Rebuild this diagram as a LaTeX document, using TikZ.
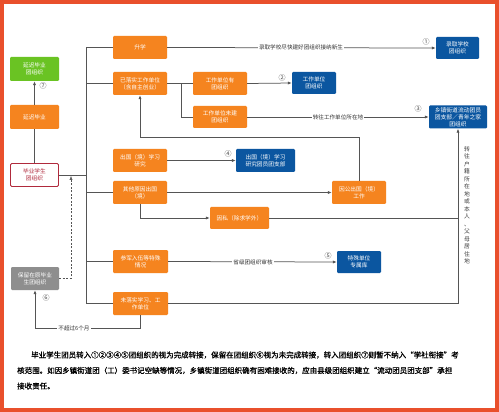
\documentclass[tikz,border=0pt]{standalone}
\usepackage{fontspec}
\setmainfont{Noto Sans CJK SC}
\newfontfamily\parafont{Noto Sans CJK SC}[FakeBold=1.2]
\usetikzlibrary{arrows.meta}
\definecolor{orgc}{HTML}{F5841F}
\definecolor{bluec}{HTML}{0B56A0}
\definecolor{greenc}{HTML}{6AC323}
\definecolor{grayc}{HTML}{8E8E8E}
\definecolor{framec}{HTML}{E9502C}
\definecolor{linec}{HTML}{555555}
\definecolor{redb}{HTML}{B02A3C}
\tikzset{
  box/.style={minimum width=54pt, minimum height=23pt, inner sep=0pt, rounded corners=1.2pt,
    align=center, font=\fontsize{5.7}{7.2}\selectfont, text=white},
  ob/.style={box, fill=orgc},
  bb/.style={box, fill=bluec},
  conn/.style={draw=linec, line width=0.75pt},
  arr/.style={-{Latex[length=4pt,width=3.2pt]}},
  lbl/.style={fill=white, inner sep=1pt, font=\fontsize{5.6}{6}\selectfont, text=black!80},
  num/.style={font=\fontsize{7}{7}\selectfont, text=black!70, inner sep=0pt},
  para/.style={anchor=west, inner sep=0pt, font=\parafont\fontsize{7.5}{8}\selectfont, text=black}
}
\begin{document}
\begin{tikzpicture}[x=1pt,y=-1pt]
\useasboundingbox (0,0) rectangle (499,412);
\fill[white] (0,0) rectangle (499,412);
\draw[framec, line width=4pt] (2,2) rectangle (497,409.5);

% nodes
\node[ob] (shengxue) at (140,47.5) {升学};
\node[ob] (yiluoshi) at (140,83.5) {已落实工作单位\\（含自主创业）};
\node[box, fill=greenc, minimum width=49pt, minimum height=24pt] (ycgreen) at (34.5,69) {延迟毕业\\团组织};
\node[ob, minimum width=49pt, minimum height=24pt] (ycorange) at (34.5,117) {延迟毕业};
\node[box, fill=white, draw=redb, line width=0.9pt, text=redb, minimum width=48pt, minimum height=23pt] (bysx) at (34.5,175) {毕业学生\\团组织};
\node[box, fill=grayc, minimum width=48pt, minimum height=23pt] (baoliu) at (35,278.5) {保留在原毕业\\生团组织};
\node[ob] (youtuan) at (220,83.5) {工作单位有\\团组织};
\node[ob, minimum height=22pt] (weijian) at (220,117) {工作单位未建\\团组织};
\node[bb, minimum width=43pt, minimum height=22pt] (lqxx) at (457.5,48) {录取学校\\团组织};
\node[bb, minimum width=44pt, minimum height=22pt] (gzdw) at (314,83) {工作单位\\团组织};
\node[bb, minimum width=58pt, minimum height=23pt, font=\fontsize{5.8}{6.9}\selectfont] (xzjd) at (458,117) {乡镇街道流动团员\\团支部／青年之家\\团组织};
\node[ob] (cgxx) at (140,160.5) {出国（境）学习\\研究};
\node[ob] (qtyy) at (140,192.5) {其他原因出国\\（境）};
\node[bb, minimum width=59pt] (cgblue) at (265.5,160.5) {出国（境）学习\\研究团员团支部};
\node[ob] (tgcg) at (359,192.5) {因公出国（境）\\工作};
\node[ob, minimum width=59pt, minimum height=22pt] (yinsi) at (239.5,218) {因私（除求学外）};
\node[ob, minimum width=55pt] (canjun) at (140.5,261.5) {参军入伍等特殊\\情况};
\node[bb, minimum width=44pt, minimum height=22pt] (tsdw) at (359,262) {特殊单位\\专属库};
\node[ob, minimum width=55pt] (wls) at (140.5,303.5) {未落实学习、工\\作单位};

% coordinates
\coordinate (trtop) at (86,47.5);
\coordinate (trbot) at (86,303.5);
\coordinate (jw) at (181,83.5);
\coordinate (h137) at (0,137);
\coordinate (rc) at (458,303.5);
\coordinate (bl6) at (35,328);
\coordinate (dtip) at (71,176);

% trunk
\draw[conn] (shengxue.west) -- (trtop) -- (trbot) -- (wls.west);
\draw[conn] (yiluoshi.west) -- (yiluoshi.west -| trtop);
\draw[conn] (qtyy.west) -- (qtyy.west -| trtop);
\draw[conn] (canjun.west) -- (canjun.west -| trtop);
\draw[conn] (bysx.east) -- (bysx.east -| trtop);
\draw[conn] (bysx.north) -- (ycorange.south);
\draw[conn, arr] (ycorange.north) -- (ycgreen.south);

% right side connectors
\draw[conn, arr] (shengxue.east) -- (lqxx.west);
\draw[conn] (yiluoshi.east) -- (youtuan.west);
\draw[conn] (jw) |- (weijian.west);
\draw[conn, arr] (youtuan.east) -- (gzdw.west);
\draw[conn, arr] (weijian.east) -- (xzjd.west);
\draw[conn, arr] (cgxx.east) -- (cgblue.west);
\draw[conn, arr] (qtyy.east) -- (tgcg.west);
\draw[conn, arr] (tgcg.north) -- (tgcg.north |- h137) -| (yiluoshi.south);
\draw[conn, arr] (qtyy.south) |- (yinsi.west);
\draw[conn] (yinsi.east) -- (yinsi.east -| rc);
\draw[conn, arr] (canjun.east) -- (tsdw.west);
\draw[conn, arr] (wls.east) -- (rc) -- (xzjd.south);
\draw[conn, arr] (wls.south) |- (bl6) -- (baoliu.south);
\draw[conn, dashed, dash pattern=on 2pt off 1.5pt, line width=0.5pt, arr] (baoliu.east) -| (dtip);

% labels
\node[lbl] (l1) at (301,47.5) {录取学校尽快建好团组织接纳新生};
\node[lbl] (l3) at (338,117) {转往工作单位所在地};
\node[lbl] (l5) at (253,262) {省级团组织审核};
\node[lbl] (l6) at (74,328) {不超过6个月};
\node[num] (n1) at (426,42) {①};
\node[num] (n2) at (282,78) {②};
\node[num] (n3) at (418,109) {③};
\node[num] (n4) at (228,154) {④};
\node[num] (n5) at (328,256) {⑤};
\node[num] (n6) at (46,298) {⑥};
\node[num] (n7) at (43,86) {⑦};
\node[anchor=north, align=center, inner sep=0pt, font=\fontsize{5.8}{7.5}\selectfont, text=black!75] (vt) at (467,146)
  {转\\往\\户\\籍\\所\\在\\地\\或\\本\\人\\、\\父\\母\\居\\住\\地};

% paragraph
\node[para] (p1) at (31,355) {毕业学生团员转入①②③④⑤团组织的视为完成转接，保留在团组织⑥视为未完成转接，转入团组织⑦则暂不纳入“学社衔接”考};
\node[para] (p2) at (17,370.5) {核范围。如因乡镇街道团（工）委书记空缺等情况，乡镇街道团组织确有困难接收的，应由县级团组织建立“流动团员团支部”承担};
\node[para] (p3) at (17,386) {接收责任。};
\end{tikzpicture}
\end{document}
